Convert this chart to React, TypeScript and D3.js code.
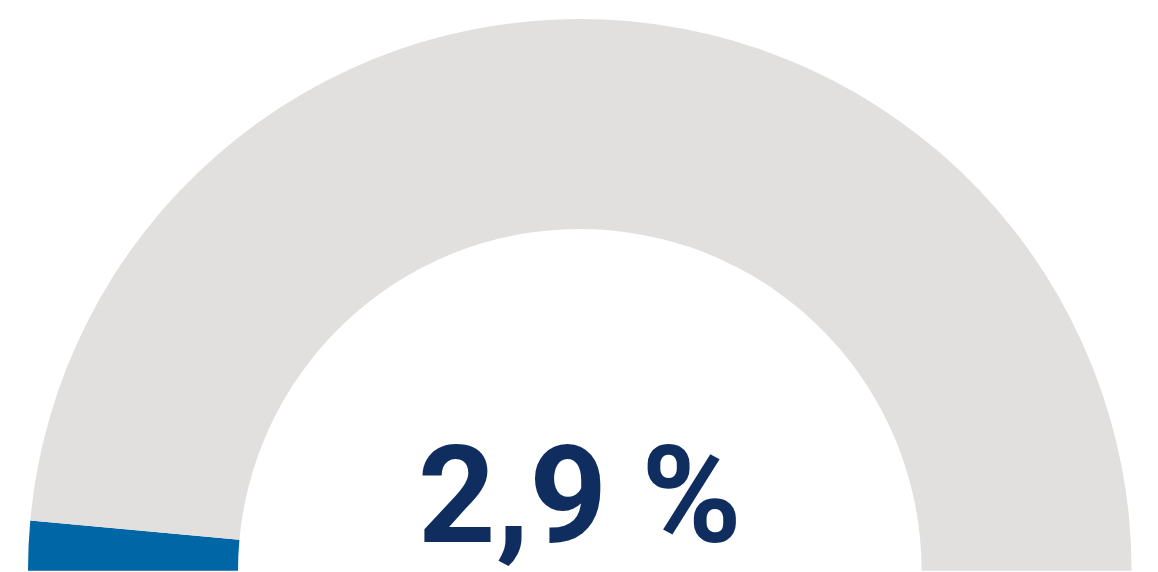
import React from "react";
import * as d3 from "d3";

const labels = ["Anteil", "Rest"];
const values = [2.9, 97.1];
const valueLabel = "2,9 %";
const colors = ["#0066a6", "#e1e0df"];

export default function App() {
  const width = 1158;
  const height = 572;
  const cx = 579.8;
  const cy = 570.8;
  const outerR = 551.8;
  const innerR = 341.8;

  const pie = d3
    .pie<number>()
    .sort(null)
    .startAngle(-Math.PI / 2)
    .endAngle(Math.PI / 2);
  const arcs = pie(values);
  const arcGen = d3.arc<d3.PieArcDatum<number>>().innerRadius(innerR).outerRadius(outerR);

  return (
    <svg
      width={width}
      height={height}
      style={{ position: "absolute", left: 0, top: 0, display: "block" }}
    >
      <g transform={`translate(${cx},${cy})`}>
        {arcs.map((a, i) => (
          <path key={labels[i]} d={arcGen(a) || ""} fill={colors[i]} />
        ))}
        <text
          x={0}
          y={541.7 - cy}
          textAnchor="middle"
          fontFamily="Roboto, 'DejaVu Sans', sans-serif"
          fontWeight={700}
          fontSize={136}
          fill="#0f2d5e"
        >
          {valueLabel}
        </text>
      </g>
    </svg>
  );
}
